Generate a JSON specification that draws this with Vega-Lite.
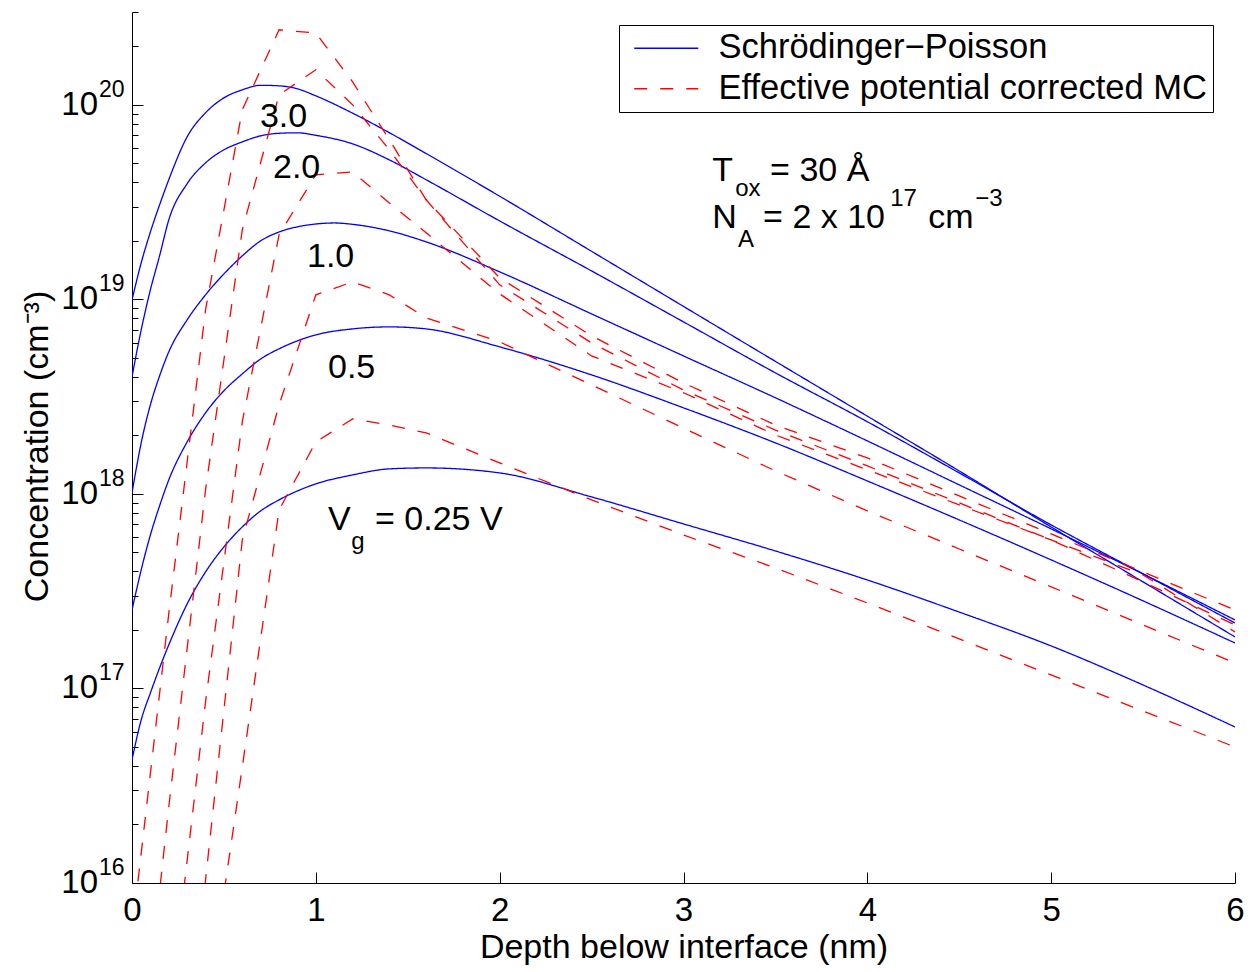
{
  "$schema": "https://vega.github.io/schema/vega-lite/v6.json",
  "width": 1103,
  "height": 871,
  "autosize": {"type": "none"},
  "padding": {"left": 132, "top": 12, "right": 22, "bottom": 89},
  "background": "white",
  "config": {
    "view": {"stroke": null},
    "font": "Liberation Sans",
    "axis": {"grid": false, "domainColor": "black", "tickColor": "black", "labelColor": "black", "titleColor": "black", "titleFontWeight": "normal"}
  },
  "datasets": {
    "sp": [
      {"vg": "3.0", "x": 0, "c": 9.94e18}, {"vg": "3.0", "x": 0.05, "c": 1.54e19}, {"vg": "3.0", "x": 0.1, "c": 2.22e19}, {"vg": "3.0", "x": 0.15, "c": 3.06e19}, {"vg": "3.0", "x": 0.2, "c": 4.12e19}, {"vg": "3.0", "x": 0.3, "c": 6.85e19}, {"vg": "3.0", "x": 0.4, "c": 9.10e19}, {"vg": "3.0", "x": 0.5, "c": 1.086e20}, {"vg": "3.0", "x": 0.6, "c": 1.194e20}, {"vg": "3.0", "x": 0.7, "c": 1.26e20}, {"vg": "3.0", "x": 0.8, "c": 1.252e20}, {"vg": "3.0", "x": 0.9, "c": 1.208e20}, {"vg": "3.0", "x": 1.0, "c": 1.112e20}, {"vg": "3.0", "x": 1.2, "c": 9.06e19}, {"vg": "3.0", "x": 1.4, "c": 7.19e19}, {"vg": "3.0", "x": 1.6, "c": 5.62e19}, {"vg": "3.0", "x": 2.0, "c": 3.39e19}, {"vg": "3.0", "x": 2.5, "c": 1.766e19}, {"vg": "3.0", "x": 3.0, "c": 9.20e18}, {"vg": "3.0", "x": 3.5, "c": 4.80e18}, {"vg": "3.0", "x": 4.0, "c": 2.51e18}, {"vg": "3.0", "x": 4.5, "c": 1.312e18}, {"vg": "3.0", "x": 5.0, "c": 6.76e17}, {"vg": "3.0", "x": 5.5, "c": 3.53e17}, {"vg": "3.0", "x": 6.0, "c": 1.84e17},
      {"vg": "2.0", "x": 0, "c": 4.00e18}, {"vg": "2.0", "x": 0.05, "c": 6.97e18}, {"vg": "2.0", "x": 0.1, "c": 1.119e19}, {"vg": "2.0", "x": 0.15, "c": 1.674e19}, {"vg": "2.0", "x": 0.2, "c": 2.56e19}, {"vg": "2.0", "x": 0.3, "c": 3.93e19}, {"vg": "2.0", "x": 0.4, "c": 5.03e19}, {"vg": "2.0", "x": 0.5, "c": 5.87e19}, {"vg": "2.0", "x": 0.6, "c": 6.45e19}, {"vg": "2.0", "x": 0.7, "c": 6.93e19}, {"vg": "2.0", "x": 0.8, "c": 7.14e19}, {"vg": "2.0", "x": 0.9, "c": 7.18e19}, {"vg": "2.0", "x": 1.0, "c": 6.97e19}, {"vg": "2.0", "x": 1.2, "c": 6.30e19}, {"vg": "2.0", "x": 1.4, "c": 5.21e19}, {"vg": "2.0", "x": 1.6, "c": 4.12e19}, {"vg": "2.0", "x": 2.0, "c": 2.53e19}, {"vg": "2.0", "x": 2.5, "c": 1.40e19}, {"vg": "2.0", "x": 3.0, "c": 7.66e18}, {"vg": "2.0", "x": 3.5, "c": 4.19e18}, {"vg": "2.0", "x": 4.0, "c": 2.35e18}, {"vg": "2.0", "x": 4.5, "c": 1.282e18}, {"vg": "2.0", "x": 5.0, "c": 6.93e17}, {"vg": "2.0", "x": 5.5, "c": 3.88e17}, {"vg": "2.0", "x": 6.0, "c": 2.17e17},
      {"vg": "1.0", "x": 0, "c": 1.012e18}, {"vg": "1.0", "x": 0.05, "c": 1.829e18}, {"vg": "1.0", "x": 0.1, "c": 2.87e18}, {"vg": "1.0", "x": 0.15, "c": 4.04e18}, {"vg": "1.0", "x": 0.2, "c": 5.37e18}, {"vg": "1.0", "x": 0.3, "c": 7.85e18}, {"vg": "1.0", "x": 0.4, "c": 1.055e19}, {"vg": "1.0", "x": 0.5, "c": 1.352e19}, {"vg": "1.0", "x": 0.6, "c": 1.674e19}, {"vg": "1.0", "x": 0.7, "c": 2.00e19}, {"vg": "1.0", "x": 0.8, "c": 2.22e19}, {"vg": "1.0", "x": 0.9, "c": 2.36e19}, {"vg": "1.0", "x": 1.0, "c": 2.44e19}, {"vg": "1.0", "x": 1.1, "c": 2.47e19}, {"vg": "1.0", "x": 1.2, "c": 2.43e19}, {"vg": "1.0", "x": 1.4, "c": 2.25e19}, {"vg": "1.0", "x": 1.6, "c": 1.975e19}, {"vg": "1.0", "x": 2.0, "c": 1.385e19}, {"vg": "1.0", "x": 2.5, "c": 8.42e18}, {"vg": "1.0", "x": 3.0, "c": 5.12e18}, {"vg": "1.0", "x": 3.5, "c": 3.12e18}, {"vg": "1.0", "x": 4.0, "c": 1.873e18}, {"vg": "1.0", "x": 4.5, "c": 1.113e18}, {"vg": "1.0", "x": 5.0, "c": 6.61e17}, {"vg": "1.0", "x": 5.5, "c": 3.88e17}, {"vg": "1.0", "x": 6.0, "c": 2.25e17},
      {"vg": "0.5", "x": 0, "c": 2.53e17}, {"vg": "0.5", "x": 0.05, "c": 4.07e17}, {"vg": "0.5", "x": 0.1, "c": 6.15e17}, {"vg": "0.5", "x": 0.15, "c": 8.68e17}, {"vg": "0.5", "x": 0.2, "c": 1.18e18}, {"vg": "0.5", "x": 0.3, "c": 1.851e18}, {"vg": "0.5", "x": 0.4, "c": 2.61e18}, {"vg": "0.5", "x": 0.5, "c": 3.39e18}, {"vg": "0.5", "x": 0.6, "c": 4.14e18}, {"vg": "0.5", "x": 0.7, "c": 4.94e18}, {"vg": "0.5", "x": 0.8, "c": 5.57e18}, {"vg": "0.5", "x": 0.9, "c": 6.12e18}, {"vg": "0.5", "x": 1.0, "c": 6.57e18}, {"vg": "0.5", "x": 1.2, "c": 7.05e18}, {"vg": "0.5", "x": 1.4, "c": 7.22e18}, {"vg": "0.5", "x": 1.6, "c": 7.05e18}, {"vg": "0.5", "x": 2.0, "c": 5.70e18}, {"vg": "0.5", "x": 2.5, "c": 4.09e18}, {"vg": "0.5", "x": 3.0, "c": 2.77e18}, {"vg": "0.5", "x": 3.5, "c": 1.829e18}, {"vg": "0.5", "x": 4.0, "c": 1.166e18}, {"vg": "0.5", "x": 4.5, "c": 7.35e17}, {"vg": "0.5", "x": 5.0, "c": 4.58e17}, {"vg": "0.5", "x": 5.5, "c": 2.82e17}, {"vg": "0.5", "x": 6.0, "c": 1.713e17},
      {"vg": "0.25", "x": 0, "c": 4.29e16}, {"vg": "0.25", "x": 0.05, "c": 6.89e16}, {"vg": "0.25", "x": 0.1, "c": 9.48e16}, {"vg": "0.25", "x": 0.15, "c": 1.275e17}, {"vg": "0.25", "x": 0.2, "c": 1.674e17}, {"vg": "0.25", "x": 0.3, "c": 2.72e17}, {"vg": "0.25", "x": 0.4, "c": 3.97e17}, {"vg": "0.25", "x": 0.5, "c": 5.34e17}, {"vg": "0.25", "x": 0.6, "c": 6.77e17}, {"vg": "0.25", "x": 0.7, "c": 8.18e17}, {"vg": "0.25", "x": 0.8, "c": 9.32e17}, {"vg": "0.25", "x": 0.9, "c": 1.036e18}, {"vg": "0.25", "x": 1.0, "c": 1.126e18}, {"vg": "0.25", "x": 1.2, "c": 1.252e18}, {"vg": "0.25", "x": 1.4, "c": 1.345e18}, {"vg": "0.25", "x": 1.6, "c": 1.36e18}, {"vg": "0.25", "x": 2.0, "c": 1.282e18}, {"vg": "0.25", "x": 2.5, "c": 9.65e17}, {"vg": "0.25", "x": 3.0, "c": 7.01e17}, {"vg": "0.25", "x": 3.5, "c": 5.09e17}, {"vg": "0.25", "x": 4.0, "c": 3.61e17}, {"vg": "0.25", "x": 4.5, "c": 2.47e17}, {"vg": "0.25", "x": 5.0, "c": 1.654e17}, {"vg": "0.25", "x": 5.5, "c": 1.042e17}, {"vg": "0.25", "x": 6.0, "c": 6.34e16}
    ],
    "mc": [
      {"vg": "3.0", "x": 0, "c": 5.53e15}, {"vg": "3.0", "x": 0.2, "c": 2.42e17}, {"vg": "3.0", "x": 0.4, "c": 8.83e18}, {"vg": "3.0", "x": 0.6, "c": 9.43e19}, {"vg": "3.0", "x": 0.8, "c": 2.43e20}, {"vg": "3.0", "x": 1.0, "c": 2.34e20}, {"vg": "3.0", "x": 1.2, "c": 1.313e20}, {"vg": "3.0", "x": 1.4, "c": 6.61e19}, {"vg": "3.0", "x": 1.6, "c": 3.25e19}, {"vg": "3.0", "x": 2.0, "c": 1.29e19}, {"vg": "3.0", "x": 2.5, "c": 6.49e18}, {"vg": "3.0", "x": 3.0, "c": 3.72e18}, {"vg": "3.0", "x": 3.5, "c": 2.26e18}, {"vg": "3.0", "x": 4.0, "c": 1.532e18}, {"vg": "3.0", "x": 4.5, "c": 9.76e17}, {"vg": "3.0", "x": 5.0, "c": 6.23e17}, {"vg": "3.0", "x": 5.5, "c": 3.97e17}, {"vg": "3.0", "x": 6.0, "c": 2.53e17},
      {"vg": "2.0", "x": 0, "c": 4.6e14}, {"vg": "2.0", "x": 0.2, "c": 2.46e16}, {"vg": "2.0", "x": 0.4, "c": 1.049e18}, {"vg": "2.0", "x": 0.6, "c": 2.28e19}, {"vg": "2.0", "x": 0.8, "c": 1.126e20}, {"vg": "2.0", "x": 1.0, "c": 1.514e20}, {"vg": "2.0", "x": 1.2, "c": 1.0e20}, {"vg": "2.0", "x": 1.4, "c": 5.87e19}, {"vg": "2.0", "x": 1.6, "c": 3.25e19}, {"vg": "2.0", "x": 2.0, "c": 1.188e19}, {"vg": "2.0", "x": 2.5, "c": 5.97e18}, {"vg": "2.0", "x": 3.0, "c": 3.42e18}, {"vg": "2.0", "x": 3.5, "c": 2.13e18}, {"vg": "2.0", "x": 4.0, "c": 1.393e18}, {"vg": "2.0", "x": 4.5, "c": 8.99e17}, {"vg": "2.0", "x": 5.0, "c": 5.80e17}, {"vg": "2.0", "x": 5.5, "c": 3.53e17}, {"vg": "2.0", "x": 6.0, "c": 2.12e17},
      {"vg": "1.0", "x": 0.2, "c": 2.0e15}, {"vg": "1.0", "x": 0.4, "c": 8.52e16}, {"vg": "1.0", "x": 0.6, "c": 2.35e18}, {"vg": "1.0", "x": 0.8, "c": 2.15e19}, {"vg": "1.0", "x": 1.0, "c": 4.37e19}, {"vg": "1.0", "x": 1.2, "c": 4.52e19}, {"vg": "1.0", "x": 1.4, "c": 3.13e19}, {"vg": "1.0", "x": 1.6, "c": 2.20e19}, {"vg": "1.0", "x": 2.0, "c": 1.067e19}, {"vg": "1.0", "x": 2.5, "c": 5.12e18}, {"vg": "1.0", "x": 3.0, "c": 3.31e18}, {"vg": "1.0", "x": 3.5, "c": 2.01e18}, {"vg": "1.0", "x": 4.0, "c": 1.329e18}, {"vg": "1.0", "x": 4.5, "c": 8.78e17}, {"vg": "1.0", "x": 5.0, "c": 5.80e17}, {"vg": "1.0", "x": 5.5, "c": 3.83e17}, {"vg": "1.0", "x": 6.0, "c": 1.952e17},
      {"vg": "0.5", "x": 0.2, "c": 1.31e14}, {"vg": "0.5", "x": 0.4, "c": 1.036e16}, {"vg": "0.5", "x": 0.6, "c": 5.80e17}, {"vg": "0.5", "x": 0.8, "c": 2.87e18}, {"vg": "0.5", "x": 1.0, "c": 1.055e19}, {"vg": "0.5", "x": 1.2, "c": 1.23e19}, {"vg": "0.5", "x": 1.4, "c": 1.055e19}, {"vg": "0.5", "x": 1.6, "c": 8.03e18}, {"vg": "0.5", "x": 2.0, "c": 6.05e18}, {"vg": "0.5", "x": 2.5, "c": 3.63e18}, {"vg": "0.5", "x": 3.0, "c": 2.18e18}, {"vg": "0.5", "x": 3.5, "c": 1.313e18}, {"vg": "0.5", "x": 4.0, "c": 8.18e17}, {"vg": "0.5", "x": 4.5, "c": 5.21e17}, {"vg": "0.5", "x": 5.0, "c": 3.33e17}, {"vg": "0.5", "x": 5.5, "c": 2.12e17}, {"vg": "0.5", "x": 6.0, "c": 1.352e17},
      {"vg": "0.25", "x": 0.4, "c": 1.98e15}, {"vg": "0.25", "x": 0.6, "c": 3.95e16}, {"vg": "0.25", "x": 0.8, "c": 8.27e17}, {"vg": "0.25", "x": 1.0, "c": 1.851e18}, {"vg": "0.25", "x": 1.2, "c": 2.43e18}, {"vg": "0.25", "x": 1.4, "c": 2.26e18}, {"vg": "0.25", "x": 1.6, "c": 2.06e18}, {"vg": "0.25", "x": 2.0, "c": 1.444e18}, {"vg": "0.25", "x": 2.5, "c": 9.32e17}, {"vg": "0.25", "x": 3.0, "c": 6.15e17}, {"vg": "0.25", "x": 3.5, "c": 4.16e17}, {"vg": "0.25", "x": 4.0, "c": 2.75e17}, {"vg": "0.25", "x": 4.5, "c": 1.797e17}, {"vg": "0.25", "x": 5.0, "c": 1.173e17}, {"vg": "0.25", "x": 5.5, "c": 7.66e16}, {"vg": "0.25", "x": 6.0, "c": 5.0e16}
    ],
    "ylab": [
      {"c": 1e16, "e": "16"}, {"c": 1e17, "e": "17"}, {"c": 1e18, "e": "18"}, {"c": 1e19, "e": "19"}, {"c": 1e20, "e": "20"}
    ],
    "txt": [
      {"t": "3.0", "x": 0.696, "c": 7.71e19},
      {"t": "2.0", "x": 0.767, "c": 4.22e19},
      {"t": "1.0", "x": 0.952, "c": 1.469e19},
      {"t": "0.5", "x": 1.066, "c": 3.95e18},
      {"t": "V", "x": 1.066, "c": 6.53e17},
      {"t": "= 0.25 V", "x": 1.322, "c": 6.53e17},
      {"t": "T", "x": 3.156, "c": 4.07e19},
      {"t": "= 30 Å", "x": 3.471, "c": 4.07e19},
      {"t": "N", "x": 3.156, "c": 2.33e19},
      {"t": "= 2 x 10", "x": 3.433, "c": 2.33e19},
      {"t": "cm", "x": 4.331, "c": 2.33e19}
    ],
    "sub": [
      {"t": "g", "x": 1.192, "c": 5.21e17},
      {"t": "ox", "x": 3.281, "c": 3.40e19},
      {"t": "A", "x": 3.297, "c": 1.862e19},
      {"t": "17", "x": 4.124, "c": 3.03e19},
      {"t": "−3", "x": 4.587, "c": 3.03e19}
    ]
  },
  "layer": [
    {
      "data": {"name": "sp"},
      "mark": {"type": "line", "clip": true, "strokeWidth": 1.3, "interpolate": "monotone"},
      "encoding": {
        "x": {"field": "x", "type": "quantitative", "scale": {"domain": [0, 6], "nice": false, "zero": false},
          "axis": {"values": [0, 1, 2, 3, 4, 5, 6], "tickSize": -11, "labelFontSize": 33, "labelPadding": 22, "labelFlush": false, "title": "Depth below interface (nm)", "titleFontSize": 34, "titleY": 74, "titleBaseline": "alphabetic"}},
        "y": {"field": "c", "type": "quantitative", "scale": {"type": "log", "domain": [1e16, 3e20], "nice": false},
          "axis": {"values": [1e16, 2e16, 3e16, 4e16, 5e16, 6e16, 7e16, 8e16, 9e16, 1e17, 2e17, 3e17, 4e17, 5e17, 6e17, 7e17, 8e17, 9e17, 1e18, 2e18, 3e18, 4e18, 5e18, 6e18, 7e18, 8e18, 9e18, 1e19, 2e19, 3e19, 4e19, 5e19, 6e19, 7e19, 8e19, 9e19, 1e20, 2e20, 3e20],
            "labels": false,
            "tickSize": {"condition": {"test": "abs(log(datum.value)/LN10 - round(log(datum.value)/LN10)) < 0.0001", "value": -11}, "value": -6},
            "title": "Concentration (cm⁻³)", "titleFontSize": 34, "titleAngle": 270, "titleX": -95, "titleY": 434, "titleAlign": "center", "titleBaseline": "middle"}},
        "detail": {"field": "vg"},
        "color": {"datum": "Schrödinger−Poisson", "type": "nominal",
          "scale": {"domain": ["Schrödinger−Poisson", "Effective potential corrected MC"], "range": ["#0000ff", "#ff0000"]},
          "legend": {"title": null, "orient": "none", "legendX": 487, "legendY": 13, "symbolType": "M-2,0L2,0", "symbolSize": 1024, "symbolStrokeWidth": 1.3, "labelFontSize": 34.5, "labelColor": "black", "labelOffset": 35, "labelLimit": 0, "labelExpr": "datum.label + '\u00a0'", "strokeColor": "black", "fillColor": "white", "padding": 6, "rowPadding": 5.5, "symbolOffset": 24}},
        "strokeDash": {"datum": "Schrödinger−Poisson", "type": "nominal",
          "scale": {"domain": ["Schrödinger−Poisson", "Effective potential corrected MC"], "range": [[1, 0], [13, 13]]},
          "legend": {"title": null, "orient": "none", "legendX": 487, "legendY": 13, "symbolType": "M-2,0L2,0", "symbolSize": 1024, "symbolStrokeWidth": 1.3, "labelFontSize": 34.5, "labelColor": "black", "labelOffset": 35, "labelLimit": 0, "labelExpr": "datum.label + '\u00a0'", "strokeColor": "black", "fillColor": "white", "padding": 6, "rowPadding": 5.5, "symbolOffset": 24}}
      }
    },
    {
      "data": {"name": "mc"},
      "mark": {"type": "line", "clip": true, "strokeWidth": 1.3},
      "encoding": {
        "x": {"field": "x", "type": "quantitative", "scale": {"domain": [0, 6], "nice": false, "zero": false},
          "axis": {"values": [0, 1, 2, 3, 4, 5, 6], "tickSize": -11, "labelFontSize": 33, "labelPadding": 22, "labelFlush": false, "title": "Depth below interface (nm)", "titleFontSize": 34, "titleY": 74, "titleBaseline": "alphabetic"}},
        "y": {"field": "c", "type": "quantitative", "scale": {"type": "log", "domain": [1e16, 3e20], "nice": false},
          "axis": {"values": [1e16, 2e16, 3e16, 4e16, 5e16, 6e16, 7e16, 8e16, 9e16, 1e17, 2e17, 3e17, 4e17, 5e17, 6e17, 7e17, 8e17, 9e17, 1e18, 2e18, 3e18, 4e18, 5e18, 6e18, 7e18, 8e18, 9e18, 1e19, 2e19, 3e19, 4e19, 5e19, 6e19, 7e19, 8e19, 9e19, 1e20, 2e20, 3e20],
            "labels": false,
            "tickSize": {"condition": {"test": "abs(log(datum.value)/LN10 - round(log(datum.value)/LN10)) < 0.0001", "value": -11}, "value": -6},
            "title": "Concentration (cm⁻³)", "titleFontSize": 34, "titleAngle": 270, "titleX": -95, "titleY": 434, "titleAlign": "center", "titleBaseline": "middle"}},
        "detail": {"field": "vg"},
        "color": {"datum": "Effective potential corrected MC", "type": "nominal"},
        "strokeDash": {"datum": "Effective potential corrected MC", "type": "nominal"}
      }
    },
    {
      "data": {"name": "ylab"},
      "mark": {"type": "text", "align": "right", "baseline": "middle", "fontSize": 33, "dx": -34, "color": "black"},
      "encoding": {
        "x": {"datum": 0, "type": "quantitative", "scale": {"domain": [0, 6], "nice": false, "zero": false},
          "axis": {"values": [0, 1, 2, 3, 4, 5, 6], "tickSize": -11, "labelFontSize": 33, "labelPadding": 22, "labelFlush": false, "title": "Depth below interface (nm)", "titleFontSize": 34, "titleY": 74, "titleBaseline": "alphabetic"}},
        "y": {"field": "c", "type": "quantitative", "scale": {"type": "log", "domain": [1e16, 3e20], "nice": false},
          "axis": {"values": [1e16, 2e16, 3e16, 4e16, 5e16, 6e16, 7e16, 8e16, 9e16, 1e17, 2e17, 3e17, 4e17, 5e17, 6e17, 7e17, 8e17, 9e17, 1e18, 2e18, 3e18, 4e18, 5e18, 6e18, 7e18, 8e18, 9e18, 1e19, 2e19, 3e19, 4e19, 5e19, 6e19, 7e19, 8e19, 9e19, 1e20, 2e20, 3e20],
            "labels": false,
            "tickSize": {"condition": {"test": "abs(log(datum.value)/LN10 - round(log(datum.value)/LN10)) < 0.0001", "value": -11}, "value": -6},
            "title": "Concentration (cm⁻³)", "titleFontSize": 34, "titleAngle": 270, "titleX": -95, "titleY": 434, "titleAlign": "center", "titleBaseline": "middle"}},
        "text": {"value": "10"}
      }
    },
    {
      "data": {"name": "ylab"},
      "mark": {"type": "text", "align": "left", "baseline": "middle", "fontSize": 23, "dx": -33, "dy": -15, "color": "black"},
      "encoding": {
        "x": {"datum": 0, "type": "quantitative", "scale": {"domain": [0, 6], "nice": false, "zero": false},
          "axis": {"values": [0, 1, 2, 3, 4, 5, 6], "tickSize": -11, "labelFontSize": 33, "labelPadding": 22, "labelFlush": false, "title": "Depth below interface (nm)", "titleFontSize": 34, "titleY": 74, "titleBaseline": "alphabetic"}},
        "y": {"field": "c", "type": "quantitative", "scale": {"type": "log", "domain": [1e16, 3e20], "nice": false},
          "axis": {"values": [1e16, 2e16, 3e16, 4e16, 5e16, 6e16, 7e16, 8e16, 9e16, 1e17, 2e17, 3e17, 4e17, 5e17, 6e17, 7e17, 8e17, 9e17, 1e18, 2e18, 3e18, 4e18, 5e18, 6e18, 7e18, 8e18, 9e18, 1e19, 2e19, 3e19, 4e19, 5e19, 6e19, 7e19, 8e19, 9e19, 1e20, 2e20, 3e20],
            "labels": false,
            "tickSize": {"condition": {"test": "abs(log(datum.value)/LN10 - round(log(datum.value)/LN10)) < 0.0001", "value": -11}, "value": -6},
            "title": "Concentration (cm⁻³)", "titleFontSize": 34, "titleAngle": 270, "titleX": -95, "titleY": 434, "titleAlign": "center", "titleBaseline": "middle"}},
        "text": {"field": "e"}
      }
    },
    {
      "data": {"name": "txt"},
      "mark": {"type": "text", "align": "left", "baseline": "alphabetic", "fontSize": 34, "color": "black"},
      "encoding": {
        "x": {"field": "x", "type": "quantitative", "scale": {"domain": [0, 6], "nice": false, "zero": false},
          "axis": {"values": [0, 1, 2, 3, 4, 5, 6], "tickSize": -11, "labelFontSize": 33, "labelPadding": 22, "labelFlush": false, "title": "Depth below interface (nm)", "titleFontSize": 34, "titleY": 74, "titleBaseline": "alphabetic"}},
        "y": {"field": "c", "type": "quantitative", "scale": {"type": "log", "domain": [1e16, 3e20], "nice": false},
          "axis": {"values": [1e16, 2e16, 3e16, 4e16, 5e16, 6e16, 7e16, 8e16, 9e16, 1e17, 2e17, 3e17, 4e17, 5e17, 6e17, 7e17, 8e17, 9e17, 1e18, 2e18, 3e18, 4e18, 5e18, 6e18, 7e18, 8e18, 9e18, 1e19, 2e19, 3e19, 4e19, 5e19, 6e19, 7e19, 8e19, 9e19, 1e20, 2e20, 3e20],
            "labels": false,
            "tickSize": {"condition": {"test": "abs(log(datum.value)/LN10 - round(log(datum.value)/LN10)) < 0.0001", "value": -11}, "value": -6},
            "title": "Concentration (cm⁻³)", "titleFontSize": 34, "titleAngle": 270, "titleX": -95, "titleY": 434, "titleAlign": "center", "titleBaseline": "middle"}},
        "text": {"field": "t"}
      }
    },
    {
      "data": {"name": "sub"},
      "mark": {"type": "text", "align": "left", "baseline": "alphabetic", "fontSize": 24, "color": "black"},
      "encoding": {
        "x": {"field": "x", "type": "quantitative", "scale": {"domain": [0, 6], "nice": false, "zero": false},
          "axis": {"values": [0, 1, 2, 3, 4, 5, 6], "tickSize": -11, "labelFontSize": 33, "labelPadding": 22, "labelFlush": false, "title": "Depth below interface (nm)", "titleFontSize": 34, "titleY": 74, "titleBaseline": "alphabetic"}},
        "y": {"field": "c", "type": "quantitative", "scale": {"type": "log", "domain": [1e16, 3e20], "nice": false},
          "axis": {"values": [1e16, 2e16, 3e16, 4e16, 5e16, 6e16, 7e16, 8e16, 9e16, 1e17, 2e17, 3e17, 4e17, 5e17, 6e17, 7e17, 8e17, 9e17, 1e18, 2e18, 3e18, 4e18, 5e18, 6e18, 7e18, 8e18, 9e18, 1e19, 2e19, 3e19, 4e19, 5e19, 6e19, 7e19, 8e19, 9e19, 1e20, 2e20, 3e20],
            "labels": false,
            "tickSize": {"condition": {"test": "abs(log(datum.value)/LN10 - round(log(datum.value)/LN10)) < 0.0001", "value": -11}, "value": -6},
            "title": "Concentration (cm⁻³)", "titleFontSize": 34, "titleAngle": 270, "titleX": -95, "titleY": 434, "titleAlign": "center", "titleBaseline": "middle"}},
        "text": {"field": "t"}
      }
    }
  ]
}
